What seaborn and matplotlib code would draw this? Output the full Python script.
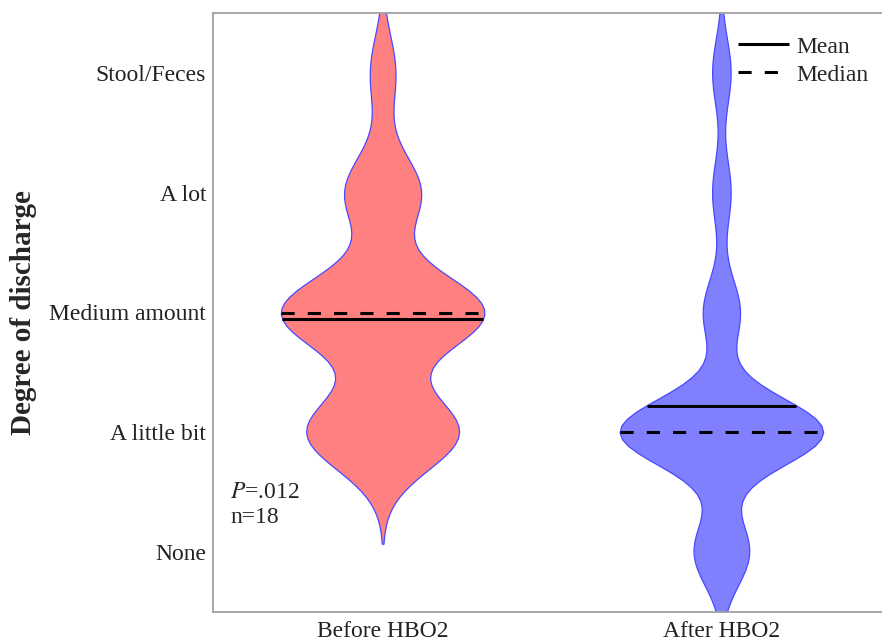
import numpy as np
import pandas as pd
import matplotlib
matplotlib.use("Agg")
import matplotlib.pyplot as plt
import seaborn as sns

# ---- data ----
groups = ["Before HBO2", "After HBO2"]
level_labels = ["None", "A little bit", "Medium amount", "A lot", "Stool/Feces"]
level_values = [0, 1, 2, 3, 4]
before_counts = [0, 6, 8, 3, 1]
after_counts = [3, 11, 2, 1, 1]
fill_colors = ["#FF8080", "#8080FF"]
bandwidths = [0.31, 0.28]
p_label = "$P$=.012"
n_label = "n=18"

before_scores = np.repeat(level_values, before_counts)
after_scores = np.repeat(level_values, after_counts)
df = pd.DataFrame({
    "group": [groups[0]] * len(before_scores) + [groups[1]] * len(after_scores),
    "score": np.concatenate([before_scores, after_scores]).astype(float),
})

sns.set_style("white")
plt.rcParams["font.family"] = ["Liberation Serif", "DejaVu Serif"]
plt.rcParams["mathtext.fontset"] = "stix"

fig = plt.figure(figsize=(8.82, 6.42), dpi=100)
ax = fig.add_axes([213 / 882, 30 / 642, 678.5 / 882, 599 / 642])

for i, g in enumerate(groups):
    sub = df[df["group"] == g]
    sd = sub["score"].std(ddof=1)
    sns.violinplot(data=sub, x="group", y="score", order=groups,
                   color=fill_colors[i], saturation=1, linecolor="#4848FF",
                   linewidth=0.9, inner=None, cut=3, bw_method=bandwidths[i] / sd,
                   density_norm="width", width=0.6, ax=ax)

polys = list(ax.collections)


def extent_at(coll, center, y0):
    v = coll.get_paths()[0].vertices
    left = v[v[:, 0] <= center]
    right = v[v[:, 0] >= center]
    lo = left[np.argsort(left[:, 1])]
    ro = right[np.argsort(right[:, 1])]
    return np.interp(y0, lo[:, 1], lo[:, 0]), np.interp(y0, ro[:, 1], ro[:, 0])


dash = (0, (4.3, 4.3))
for i, g in enumerate(groups):
    vals = df.loc[df["group"] == g, "score"]
    mean_v, med_v = vals.mean(), vals.median()
    x0, x1 = extent_at(polys[i], i, mean_v)
    ax.plot([x0, x1], [mean_v, mean_v], color="black", lw=2.2,
            solid_capstyle="butt", label="Mean" if i == 0 else None, zorder=5)
    x0, x1 = extent_at(polys[i], i, med_v)
    ax.plot([x0, x1], [med_v, med_v], color="black", lw=2.2, linestyle=dash,
            dash_capstyle="butt", label="Median" if i == 0 else None, zorder=5)

ax.set_xlim(-0.5, 1.5)
ax.set_ylim(-0.5, 4.5)
ax.set_yticks(level_values)
ax.set_yticklabels(level_labels)
ax.set_xticks(range(len(groups)))
ax.set_xticklabels(groups)
ax.tick_params(axis="both", length=0, labelsize=17, colors="#222222")
ax.tick_params(axis="y", pad=5)
ax.tick_params(axis="x", pad=6.5)
ax.set_xlabel("")
ax.set_ylabel("Degree of discharge", fontsize=21, fontweight="bold", labelpad=9)
for s in ax.spines.values():
    s.set_color("#A0A0A0")
    s.set_linewidth(1.3)

ax.text(0.025, 0.19, p_label, transform=ax.transAxes, fontsize=17, va="baseline")
ax.text(0.025, 0.149, n_label, transform=ax.transAxes, fontsize=17, va="baseline")

ax.legend(loc="upper left", bbox_to_anchor=(738 / 882, 1 - 36 / 642),
          bbox_transform=fig.transFigure, frameon=False, fontsize=17,
          handlelength=2.17, handletextpad=0.3, labelspacing=0.28,
          borderpad=0, borderaxespad=0)

fig.savefig("out.png", dpi=100)
